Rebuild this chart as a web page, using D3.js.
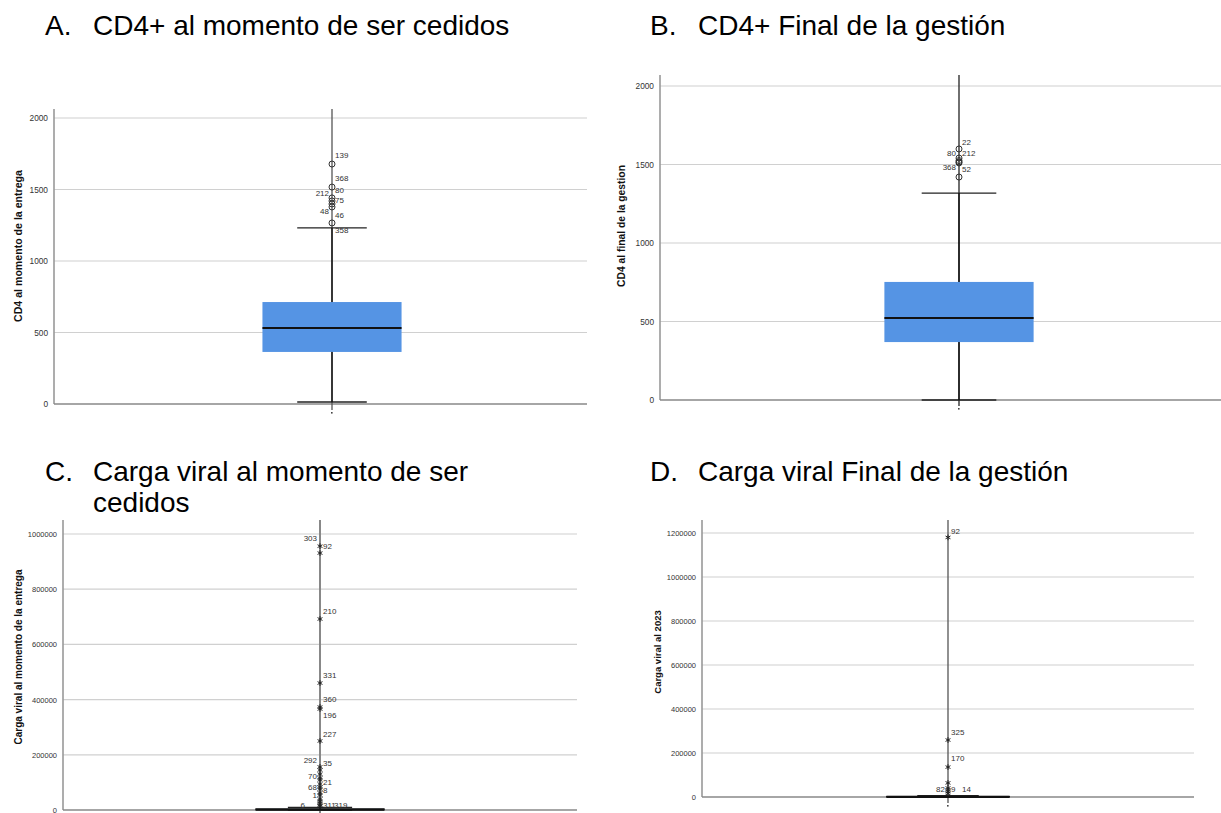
<!DOCTYPE html>
<html>
<head>
<meta charset="utf-8">
<script src="https://cdn.jsdelivr.net/npm/d3@7"></script>
<style>
  html, body { margin: 0; padding: 0; background: #fff; }
  svg { display: block; font-family: Arial, "Liberation Sans", sans-serif; }
</style>
</head>
<body>
<svg id="chart" width="1221" height="813"></svg>
<script>
// ---------------- DATA ----------------
const panelLetters = ["A.", "B.", "C.", "D."];
const panelTitles = [
  ["CD4+ al momento de ser cedidos"],
  ["CD4+ Final de la gestión"],
  ["Carga viral al momento de ser", "cedidos"],
  ["Carga viral Final de la gestión"]
];
const yAxisTitles = [
  "CD4 al momento de la entrega",
  "CD4 al final de la gestion",
  "Carga viral al momento de la entrega",
  "Carga viral al 2023"
];
const yTicksA = [0, 500, 1000, 1500, 2000];
const yTicksB = [0, 500, 1000, 1500, 2000];
const yTicksC = [0, 200000, 400000, 600000, 800000, 1000000];
const yTicksD = [0, 200000, 400000, 600000, 800000, 1000000, 1200000];

// box statistics: [lower whisker, Q1, median, Q3, upper whisker]
const boxA = [14, 364, 531, 713, 1231];
const boxB = [0, 369, 522, 752, 1318];
const boxC = [0, 500, 1500, 4000, 9000];
const boxD = [0, 300, 900, 2500, 6000];

// outliers (circles in A/B, extremes * in C/D)
const outliersA = [1678, 1517, 1441, 1420, 1399, 1378, 1266];
const outliersB = [1599, 1541, 1525, 1516, 1510, 1420];
const outliersC = [956000, 931000, 692000, 460000, 373000, 366000, 250000,
  156000, 145000, 130000, 116000, 109000, 94000, 83000, 76000, 62000, 54000,
  40000, 32000, 25000, 18000, 14000];
const outliersD = [1180000, 259000, 136000, 64000, 41000, 32000, 24000, 16000];

// case-number labels of the outliers: text, value (where it sits), side
const labelTextA = ["139", "368", "80", "212", "75", "48", "46", "358"];
const labelValA  = [1741, 1580, 1490, 1469, 1420, 1343, 1315, 1210];
const labelSideA = ["r", "r", "r", "l", "r", "l", "r", "r"];

const labelTextB = ["22", "80", "212", "368", "52"];
const labelValB  = [1643, 1573, 1573, 1484, 1471];
const labelSideB = ["r", "l", "r", "l", "r"];

const labelTextC = ["303", "92", "210", "331", "360", "196", "227", "292", "35",
  "70", "21", "68", "8", "1", "6", "311", "319"];
const labelValC  = [982000, 956000, 721000, 489000, 399000, 344000, 275000,
  181000, 170000, 120000, 101000, 83000, 69000, 54000, 18000, 18000, 18000];
const labelSideC = ["l", "r", "r", "r", "r", "r", "r", "l", "r",
  "l", "r", "l", "r", "l", "ll", "r", "rr"];

const labelTextD = ["92", "325", "170", "82", "9", "14"];
const labelValD  = [1209000, 295000, 173000, 32000, 32000, 32000];
const labelSideD = ["r", "r", "r", "l", "r", "rr"];

// ---------------- LAYOUT ----------------
const layouts = [
  { titleX: 45, titleY: 35, axisX: 54, axisTop: 109, zeroY: 404, maxY: 118, right: 587,
    band: [100, 564], boxFrac: 0.261, capFrac: 0.5, yTitleX: 18, yTitleY: 246, yTitleFont: 10.6,
    tickFont: 8.3, marker: "circle", lineColor: "#555", lineW: 1.3 },
  { titleX: 650, titleY: 35, axisX: 660, axisTop: 75, zeroY: 400, maxY: 86, right: 1221,
    band: [700, 1218], boxFrac: 0.266, capFrac: 0.5, yTitleX: 621, yTitleY: 226, yTitleFont: 10.3,
    tickFont: 8.3, marker: "circle", lineColor: "#222", lineW: 1.3 },
  { titleX: 45, titleY: 481, axisX: 63, axisTop: 520, zeroY: 810, maxY: 534, right: 577,
    band: [63, 577], boxFrac: 0.25, capFrac: 0.5, yTitleX: 18, yTitleY: 657, yTitleFont: 10,
    tickFont: 7.5, marker: "star", lineColor: "#888", lineW: 2 },
  { titleX: 650, titleY: 481, axisX: 702, axisTop: 520, zeroY: 797, maxY: 533, right: 1194,
    band: [702, 1194], boxFrac: 0.25, capFrac: 0.5, yTitleX: 657, yTitleY: 652, yTitleFont: 9.5,
    tickFont: 7.5, marker: "star", lineColor: "#555", lineW: 1.3 }
];

const panels = [
  { ticks: yTicksA, box: boxA, out: outliersA, lt: labelTextA, lv: labelValA, ls: labelSideA },
  { ticks: yTicksB, box: boxB, out: outliersB, lt: labelTextB, lv: labelValB, ls: labelSideB },
  { ticks: yTicksC, box: boxC, out: outliersC, lt: labelTextC, lv: labelValC, ls: labelSideC },
  { ticks: yTicksD, box: boxD, out: outliersD, lt: labelTextD, lv: labelValD, ls: labelSideD }
];

const svg = d3.select("#chart");
const boxFill = "#5594e4";

panels.forEach((p, i) => {
  const L = layouts[i];
  const g = svg.append("g");

  // title
  const t = g.append("g").attr("fill", "#000").style("font-size", "28px");
  t.append("text").attr("x", L.titleX).attr("y", L.titleY).text(panelLetters[i]);
  panelTitles[i].forEach((line, k) => {
    t.append("text").attr("x", L.titleX + 48).attr("y", L.titleY + k * 31).text(line);
  });

  const maxTick = p.ticks[p.ticks.length - 1];
  const y = d3.scaleLinear().domain([0, maxTick]).range([L.zeroY, L.maxY]);
  const x = d3.scaleBand().domain(["1"]).range(L.band).padding(0);
  const cx = x("1") + x.bandwidth() / 2;
  const plotW = L.right - L.axisX;
  const bw = plotW * L.boxFrac;

  // gridlines
  g.append("g").selectAll("line").data(p.ticks.filter(d => d > 0)).join("line")
    .attr("x1", L.axisX).attr("x2", L.right)
    .attr("y1", d => y(d)).attr("y2", d => y(d))
    .attr("stroke", "#d0d0d0").attr("stroke-width", 1.2);

  // y axis
  const yAxis = d3.axisLeft(y).tickValues(p.ticks).tickFormat(d3.format("d")).tickSize(0).tickPadding(6);
  const ax = g.append("g").attr("transform", `translate(${L.axisX},0)`).call(yAxis);
  ax.select(".domain").remove();
  ax.selectAll("text").attr("fill", "#333").style("font-size", L.tickFont + "px").style("font-family", "Arial, 'Liberation Sans', sans-serif");
  g.append("line").attr("x1", L.axisX).attr("x2", L.axisX).attr("y1", L.axisTop).attr("y2", L.zeroY)
    .attr("stroke", "#999").attr("stroke-width", 1.6);
  // x axis
  g.append("line").attr("x1", L.axisX).attr("x2", L.right).attr("y1", L.zeroY).attr("y2", L.zeroY)
    .attr("stroke", "#888").attr("stroke-width", 1.4);

  // y axis title
  g.append("text")
    .attr("transform", `translate(${L.yTitleX},${L.yTitleY}) rotate(-90)`)
    .attr("text-anchor", "middle").attr("dominant-baseline", "central")
    .style("font-size", L.yTitleFont + "px").style("font-weight", "bold").attr("fill", "#111")
    .text(yAxisTitles[i]);

  // full-height vertical guide line through the box
  g.append("line").attr("x1", cx).attr("x2", cx).attr("y1", L.axisTop).attr("y2", L.zeroY + 6)
    .attr("stroke", L.lineColor).attr("stroke-width", L.lineW);
  g.append("rect").attr("x", cx - 1).attr("y", L.zeroY + 8).attr("width", 1.6).attr("height", 1.6).attr("fill", "#444");

  const [lo, q1, med, q3, hi] = p.box;
  // whisker caps
  [lo, hi].forEach(v => {
    g.append("line").attr("x1", cx - bw * L.capFrac / 2).attr("x2", cx + bw * L.capFrac / 2)
      .attr("y1", y(v)).attr("y2", y(v)).attr("stroke", "#222").attr("stroke-width", 1.3);
  });
  g.append("line").attr("x1", cx).attr("x2", cx).attr("y1", y(hi)).attr("y2", y(lo))
    .attr("stroke", "#111").attr("stroke-width", 1.4);
  // box
  g.append("rect").attr("x", cx - bw / 2).attr("width", bw)
    .attr("y", y(q3)).attr("height", Math.max(y(q1) - y(q3), 0.5))
    .attr("fill", boxFill).attr("stroke", i >= 2 ? "#222" : "none").attr("stroke-width", 1);
  g.append("line").attr("x1", cx - bw / 2).attr("x2", cx + bw / 2)
    .attr("y1", y(med)).attr("y2", y(med)).attr("stroke", "#111").attr("stroke-width", i >= 2 ? 2.2 : 2);

  // outliers
  if (L.marker === "circle") {
    g.append("g").selectAll("circle").data(p.out).join("circle")
      .attr("cx", cx).attr("cy", d => y(d)).attr("r", 3)
      .attr("fill", "none").attr("stroke", "#333").attr("stroke-width", 1);
  } else {
    const sym = d3.symbol().type(d3.symbolAsterisk).size(22);
    g.append("g").selectAll("path").data(p.out).join("path")
      .attr("transform", d => `translate(${cx},${y(d)})`).attr("d", sym)
      .attr("stroke", "#222").attr("stroke-width", 1).attr("fill", "none");
  }

  // outlier labels
  const offs = { r: 3, rr: 14, l: -3, ll: -15 };
  g.append("g").selectAll("text").data(p.lt).join("text")
    .attr("x", (d, k) => cx + offs[p.ls[k]])
    .attr("y", (d, k) => y(p.lv[k]))
    .attr("dominant-baseline", "central")
    .attr("text-anchor", (d, k) => p.ls[k].startsWith("l") ? "end" : "start")
    .style("font-size", "8px").attr("fill", "#333")
    .text(d => d);
});
</script>
</body>
</html>
